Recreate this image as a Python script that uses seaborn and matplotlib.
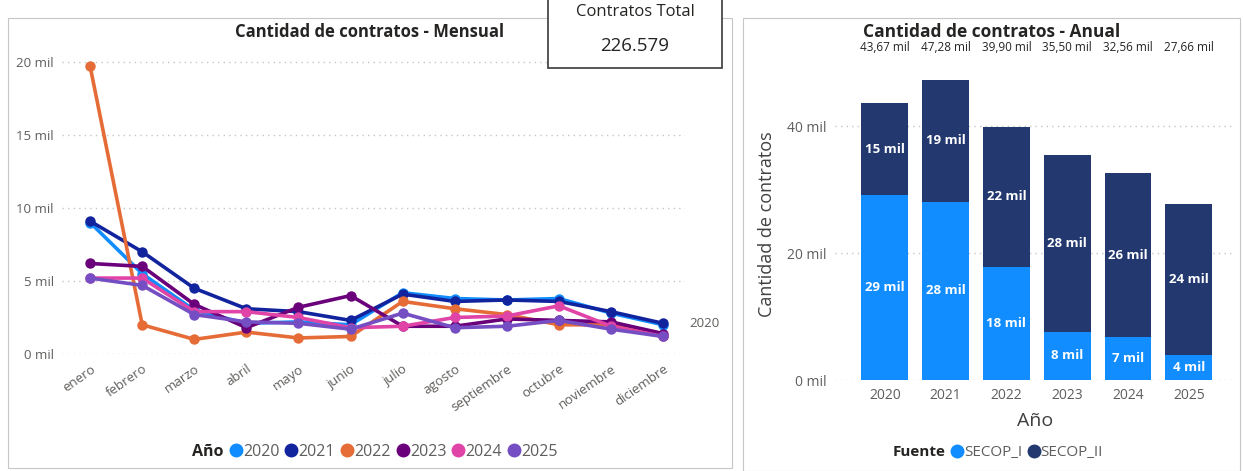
import matplotlib
matplotlib.use("Agg")
import matplotlib.pyplot as plt
from matplotlib.lines import Line2D
from matplotlib.patches import Rectangle
import pandas as pd
import seaborn as sns

# datos mensuales (miles de contratos)
meses = ["enero", "febrero", "marzo", "abril", "mayo", "junio", "julio",
         "agosto", "septiembre", "octubre", "noviembre", "diciembre"]
v2020 = [9.0, 5.5, 3.0, 2.1, 2.2, 2.0, 4.2, 3.8, 3.7, 3.8, 2.8, 2.0]
v2021 = [9.1, 7.0, 4.5, 3.1, 2.9, 2.3, 4.1, 3.6, 3.7, 3.6, 2.9, 2.1]
v2022 = [19.7, 2.0, 1.0, 1.5, 1.1, 1.2, 3.6, 3.1, 2.7, 2.0, 2.0, 1.2]
v2023 = [6.2, 6.0, 3.4, 1.8, 3.2, 4.0, 1.9, 1.9, 2.4, 2.3, 2.2, 1.4]
v2024 = [5.2, 5.2, 2.9, 2.9, 2.5, 1.8, 1.9, 2.5, 2.6, 3.3, 1.9, 1.2]
v2025 = [5.2, 4.7, 2.7, 2.2, 2.1, 1.7, 2.8, 1.8, 1.9, 2.3, 1.7, 1.2]
anios_mes = ["2020", "2021", "2022", "2023", "2024", "2025"]
colores_mes = ["#118DFF", "#12239E", "#E66C37", "#6B007B", "#E044A7", "#744EC2"]

# datos anuales (miles de contratos)
anios = ["2020", "2021", "2022", "2023", "2024", "2025"]
secop_i = [29.07, 28.08, 17.80, 7.60, 6.80, 4.00]
secop_ii = [14.60, 19.20, 22.10, 27.90, 25.76, 23.66]
totales = ["43,67 mil", "47,28 mil", "39,90 mil", "35,50 mil", "32,56 mil", "27,66 mil"]
total_contratos = "226.579"

c_i = "#118DFF"
c_ii = "#22386F"
gris = "#605E5C"
oscuro = "#252423"

series = [v2020, v2021, v2022, v2023, v2024, v2025]
filas = []
for anio, vals in zip(anios_mes, series):
    for i, v in enumerate(vals):
        filas.append({"mes": i, "valor": v, "Año": anio})
df = pd.DataFrame(filas)

sns.set_style("white")
plt.rcParams["font.family"] = ["Open Sans", "DejaVu Sans"]

fig = plt.figure(figsize=(12.43, 4.71), dpi=100)
W, H = 1243, 471

def fx(px):
    return px / W

def fy(py):
    return 1 - py / H

# marcos de los paneles
fig.add_artist(Rectangle((fx(8), fy(468)), fx(724), 450 / H, transform=fig.transFigure,
                         fill=False, edgecolor="#C8C6C4", linewidth=0.8))
fig.add_artist(Rectangle((fx(743), fy(471)), fx(497), 453 / H, transform=fig.transFigure,
                         fill=False, edgecolor="#C8C6C4", linewidth=0.8))

# ---------------- mensual ----------------
ax1 = fig.add_axes([fx(62), fy(354), fx(623), 300.8 / H])
sns.lineplot(data=df, x="mes", y="valor", hue="Año", palette=colores_mes, marker="o",
             markersize=7.5, markeredgewidth=0, linewidth=2.6, sort=False, ax=ax1,
             legend=False)
ax1.set_xlim(-0.54, 11.42)
ax1.set_ylim(0, 20.6)
ax1.set_yticks([0, 5, 10, 15, 20])
ax1.set_yticklabels(["0 mil", "5 mil", "10 mil", "15 mil", "20 mil"])
ax1.set_xticks(range(12))
ax1.set_xticklabels(meses, rotation=35, ha="right", rotation_mode="anchor")
ax1.tick_params(axis="both", labelsize=9.5, labelcolor=gris, length=0, pad=6)
ax1.grid(axis="y", linestyle=(0, (1, 3)), color="#C8C6C4", linewidth=1)
ax1.set_xlabel("")
ax1.set_ylabel("")
for s in ax1.spines.values():
    s.set_visible(False)
for ln in ax1.lines:
    ln.set_clip_on(False)
ax1.text(11.5, v2020[-1] + 0.1, "2020", color=gris, fontsize=9.5, va="center", ha="left")
fig.text(fx(370), fy(32), "Cantidad de contratos - Mensual", ha="center", va="center",
         fontsize=12, fontweight="bold", color=oscuro)

handles = [Line2D([], [], linestyle="none")]
handles += [Line2D([], [], linestyle="none", marker="o", markersize=9, color=c)
            for c in colores_mes]
leg = ax1.legend(handles, ["Año"] + anios_mes, loc="center", ncol=7, frameon=False,
                 bbox_to_anchor=((369 - 62) / 623, (354 - 452) / 300.8),
                 bbox_transform=ax1.transAxes, handlelength=0.6, handletextpad=0.15,
                 columnspacing=0.45, fontsize=11.5)
for t in leg.get_texts():
    t.set_color(gris)
leg.get_texts()[0].set_fontweight("bold")
leg.get_texts()[0].set_color(oscuro)

# tarjeta total
fig.add_artist(Rectangle((fx(548), fy(68)), fx(174), 70 / H, transform=fig.transFigure,
                         facecolor="white", edgecolor="#3B3A39", linewidth=1.2, zorder=5))
fig.text(fx(635), fy(12), "Contratos Total", ha="center", va="center", fontsize=12,
         color=oscuro, zorder=6)
fig.text(fx(635), fy(46), total_contratos, ha="center", va="center", fontsize=13.5,
         color=oscuro, zorder=6)

# ---------------- anual ----------------
ax2 = fig.add_axes([fx(835), fy(380), fx(400), 311 / H])
tot_vals = [a + b for a, b in zip(secop_i, secop_ii)]
sns.barplot(x=anios, y=tot_vals, color=c_ii, saturation=1, width=0.77, linewidth=0, ax=ax2)
sns.barplot(x=anios, y=secop_i, color=c_i, saturation=1, width=0.77, linewidth=0, ax=ax2)
ax2.set_xlim(-0.82, 5.76)
ax2.set_ylim(0, 49)
ax2.set_yticks([0, 20, 40])
ax2.set_yticklabels(["0 mil", "20 mil", "40 mil"])
ax2.tick_params(axis="both", labelsize=10, labelcolor=gris, length=0, pad=6)
ax2.grid(axis="y", linestyle=(0, (1, 3)), color="#C8C6C4", linewidth=1)
ax2.set_axisbelow(True)
for s in ax2.spines.values():
    s.set_visible(False)
ax2.set_xlabel("Año", fontsize=14, color="#404040", labelpad=6)
ax2.set_ylabel("Cantidad de contratos", fontsize=13, color="#404040", labelpad=8)
for i in range(len(anios)):
    ax2.text(i, secop_i[i] / 2, f"{round(secop_i[i]):.0f} mil", ha="center", va="center",
             color="white", fontsize=9.5, fontweight="bold")
    ax2.text(i, secop_i[i] + secop_ii[i] / 2, f"{round(secop_ii[i]):.0f} mil", ha="center",
             va="center", color="white", fontsize=9.5, fontweight="bold")
    ax2.text(i, 1.07, totales[i], transform=ax2.get_xaxis_transform(), ha="center",
             va="center", fontsize=8.5, color=oscuro)
fig.text(fx(992), fy(32), "Cantidad de contratos - Anual", ha="center", va="center",
         fontsize=12.5, fontweight="bold", color=oscuro)

h2 = [Line2D([], [], linestyle="none"),
      Line2D([], [], linestyle="none", marker="o", markersize=9, color=c_i),
      Line2D([], [], linestyle="none", marker="o", markersize=9, color=c_ii)]
leg2 = ax2.legend(h2, ["Fuente", "SECOP_I", "SECOP_II"], loc="center", ncol=3,
                  frameon=False, bbox_to_anchor=((992 - 835) / 400, (380 - 453) / 311),
                  bbox_transform=ax2.transAxes, handlelength=0.6, handletextpad=0.15,
                  columnspacing=0.45, fontsize=11)
for t in leg2.get_texts():
    t.set_color(gris)
leg2.get_texts()[0].set_fontweight("bold")
leg2.get_texts()[0].set_color(oscuro)

fig.savefig("out.png", dpi=100)
